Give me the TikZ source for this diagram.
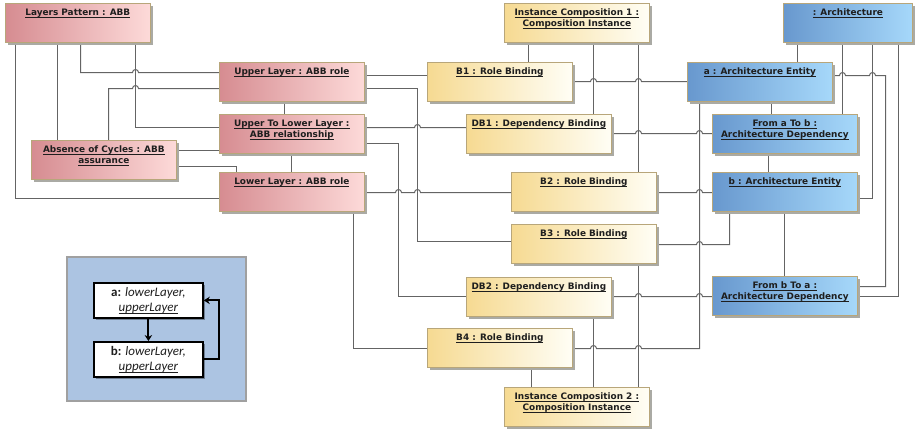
\documentclass[tikz,border=0pt]{standalone}
\usepackage{fontspec}
\setmainfont{DejaVu Sans}
\newfontfamily\legendfont{Carlito}
\usetikzlibrary{shadows,arrows.meta,backgrounds}

\definecolor{redL}{RGB}{214,140,145}
\definecolor{redR}{RGB}{253,218,217}
\definecolor{yelL}{RGB}{246,218,146}
\definecolor{yelR}{RGB}{255,254,245}
\definecolor{bluL}{RGB}{104,152,206}
\definecolor{bluR}{RGB}{166,216,250}
\definecolor{boxedge}{RGB}{184,166,122}
\definecolor{boxshadow}{RGB}{170,170,164}
\definecolor{wire}{RGB}{100,100,100}
\definecolor{labelink}{RGB}{30,30,30}
\definecolor{legendbg}{RGB}{172,196,226}
\definecolor{legendedge}{RGB}{160,160,160}

% underlined text with a fixed rule position
\newcommand\uln[1]{\leavevmode\setbox0\hbox{#1}\rlap{\rule[-1.7pt]{\wd0}{0.7pt}}\box0}
% box caption placed at the top of a fixed-size box
\newcommand\boxtext[2][145pt]{\parbox[t][39pt][t]{#1}{\centering
  \fontsize{8.9}{11}\selectfont\bfseries\color{labelink}\rule{0pt}{12.5pt}#2}}
% a small hop of a horizontal wire over a vertical one
\newcommand\hop[2]{-- (#1-3,#2) arc[start angle=180,end angle=360,radius=3]}

\tikzset{
  box/.style={draw=boxedge, line width=0.7pt, inner sep=0pt, anchor=north west,
    drop shadow={shadow xshift=3pt, shadow yshift=-3pt, fill=boxshadow, opacity=1}},
  redbox/.style={box, left color=redL, right color=redR},
  yelbox/.style={box, left color=yelL, right color=yelR},
  blubox/.style={box, left color=bluL, right color=bluR},
  conn/.style={draw=wire, line width=1pt},
  legendbox/.style={draw=black, line width=1.8pt, fill=white, anchor=north west,
    minimum width=109pt, minimum height=35pt, inner sep=0pt, align=center,
    font=\legendfont\fontsize{13}{15.5}\selectfont, text=labelink,
    drop shadow={shadow xshift=2pt, shadow yshift=-2pt, fill=black, opacity=0.35}},
  legendarrow/.style={draw=black, line width=2pt, -{Stealth[length=6pt,width=7.5pt]}},
}

\begin{document}
\begin{tikzpicture}[x=1pt,y=-1pt]
\begin{scope}[on background layer]
\fill[white] (0,0) rectangle (915,429);
\end{scope}
\useasboundingbox (0,0) rectangle (915,429);

% ---------- ABB side ----------
\node[redbox] (LP)  at (5,3)    {\boxtext{\uln{Layers Pattern : ABB}}};
\node[redbox] (UL)  at (219,62) {\boxtext{\uln{Upper Layer : ABB role}}};
\node[redbox] (UTL) at (219,114){\boxtext{\uln{Upper To Lower Layer :}\\\uln{ABB relationship}}};
\node[redbox] (AC)  at (31,140) {\boxtext{\uln{Absence of Cycles : ABB}\\\uln{assurance}}};
\node[redbox] (LL)  at (219,172){\boxtext{\uln{Lower Layer : ABB role}}};

% ---------- bindings ----------
\node[yelbox] (IC1) at (504,3)   {\boxtext{\uln{Instance Composition 1 :}\\\uln{Composition Instance}}};
\node[yelbox] (B1)  at (427,62)  {\boxtext{\uln{B1 : Role Binding}}};
\node[yelbox] (DB1) at (466,114) {\boxtext{\uln{DB1 : Dependency Binding}}};
\node[yelbox] (B2)  at (511,172) {\boxtext{\uln{B2 : Role Binding}}};
\node[yelbox] (B3)  at (511,224) {\boxtext{\uln{B3 : Role Binding}}};
\node[yelbox] (DB2) at (466,277) {\boxtext{\uln{DB2 : Dependency Binding}}};
\node[yelbox] (B4)  at (427,328) {\boxtext{\uln{B4 : Role Binding}}};
\node[yelbox] (IC2) at (504,387) {\boxtext{\uln{Instance Composition 2 :}\\\uln{Composition Instance}}};

% ---------- architecture side ----------
\node[blubox] (AR)  at (783,3)   {\boxtext[129pt]{\uln{: Architecture}}};
\node[blubox] (EA)  at (687,62)  {\boxtext{\uln{a : Architecture Entity}}};
\node[blubox] (FAB) at (712,114) {\boxtext{\uln{From a To b :}\\\uln{Architecture Dependency}}};
\node[blubox] (EB)  at (712,172) {\boxtext{\uln{b : Architecture Entity}}};
\node[blubox] (FBA) at (712,276) {\boxtext{\uln{From b To a :}\\\uln{Architecture Dependency}}};

% ---------- legend ----------
\node[draw=legendedge, line width=1.5pt, fill=legendbg, anchor=north west,
      minimum width=179pt, minimum height=144pt, inner sep=0pt] (legend) at (66,256) {};
\node[legendbox] (la) at (93,282) {{\bfseries a:} \itshape lowerLayer,\\\itshape\uln{upperLayer}};
\node[legendbox] (lb) at (93,341) {{\bfseries b:} \itshape lowerLayer,\\\itshape\uln{upperLayer}};
\draw[legendarrow] (la.south) -- (lb.north);
\draw[legendarrow] (lb.east) -- (lb.east -| 219,0) |- (la.east);

% ---------- connectors (centred on pixel rows) ----------
\begin{scope}[on background layer, shift={(0.5,0.5)}, every path/.style={conn}]
% pattern to its roles
\draw (LP.south -| 15,0) -- (15,198) -- (LL.west |- 0,198);
\draw (LP.south -| 57,0) -- (AC.north -| 57,0);
\draw (LP.south -| 80,0) -- (80,72) \hop{135}{72} -- (UL.west |- 0,72);
\draw (LP.south -| 135,0) -- (135,127) -- (UTL.west |- 0,127);
\draw (AC.north -| 108,0) -- (108,88) \hop{135}{88} -- (UL.west |- 0,88);
\draw (AC.east |- 0,150) -- (UTL.west |- 0,150);
\draw (AC.east |- 0,166) -- (236,166) -- (LL.north -| 236,0);
\draw (UL.south -| 284,0) -- (UTL.north -| 284,0);
\draw (UTL.south -| 291,0) -- (LL.north -| 291,0);
% roles to bindings
\draw (UL.east |- 0,75) -- (B1.west |- 0,75);
\draw (UL.east |- 0,88) -- (417,88) -- (417,241) -- (B3.west |- 0,241);
\draw (UTL.east |- 0,127) \hop{417}{127} -- (DB1.west |- 0,127);
\draw (UTL.east |- 0,143) -- (398,143) -- (398,296) -- (DB2.west |- 0,296);
\draw (LL.east |- 0,192) \hop{398}{192} \hop{417}{192} -- (B2.west |- 0,192);
\draw (LL.south -| 353,0) -- (353,348) -- (B4.west |- 0,348);
% compositions
\draw (IC1.south -| 528,0) -- (B1.north -| 528,0);
\draw (IC1.south -| 593,0) -- (DB1.north -| 593,0);
\draw (IC1.south -| 638,0) -- (B2.north -| 638,0);
\draw (B4.south -| 531,0) -- (IC2.north -| 531,0);
\draw (DB2.south -| 593,0) -- (IC2.north -| 593,0);
\draw (B3.south -| 638,0) -- (IC2.north -| 638,0);
% bindings to architecture elements
\draw (B1.east |- 0,81) \hop{593}{81} \hop{638}{81} -- (EA.west |- 0,81);
\draw (DB1.east |- 0,133) \hop{638}{133} \hop{699}{133} -- (FAB.west |- 0,133);
\draw (B2.east |- 0,192) \hop{699}{192} -- (EB.west |- 0,192);
\draw (B3.east |- 0,244) \hop{699}{244} -- (729,244) -- (EB.south -| 729,0);
\draw (DB2.east |- 0,296) \hop{638}{296} \hop{699}{296} -- (FBA.west |- 0,296);
\draw (B4.east |- 0,348) \hop{593}{348} \hop{638}{348} -- (699,348) -- (EA.south -| 699,0);
% architecture
\draw (AR.south -| 797,0) -- (EA.north -| 797,0);
\draw (AR.south -| 842,0) -- (FAB.north -| 842,0);
\draw (AR.south -| 872,0) -- (872,198) -- (EB.east |- 0,198);
\draw (AR.south -| 898,0) -- (898,296) -- (FBA.east |- 0,296);
\draw (EA.east |- 0,75) \hop{842}{75} \hop{872}{75} -- (885,75) -- (885,286) -- (FBA.east |- 0,286);
\draw (EA.south -| 771,0) -- (FAB.north -| 771,0);
\draw (FAB.south -| 768,0) -- (EB.north -| 768,0);
\draw (EB.south -| 784,0) -- (FBA.north -| 784,0);
\end{scope}
\end{tikzpicture}
\end{document}
